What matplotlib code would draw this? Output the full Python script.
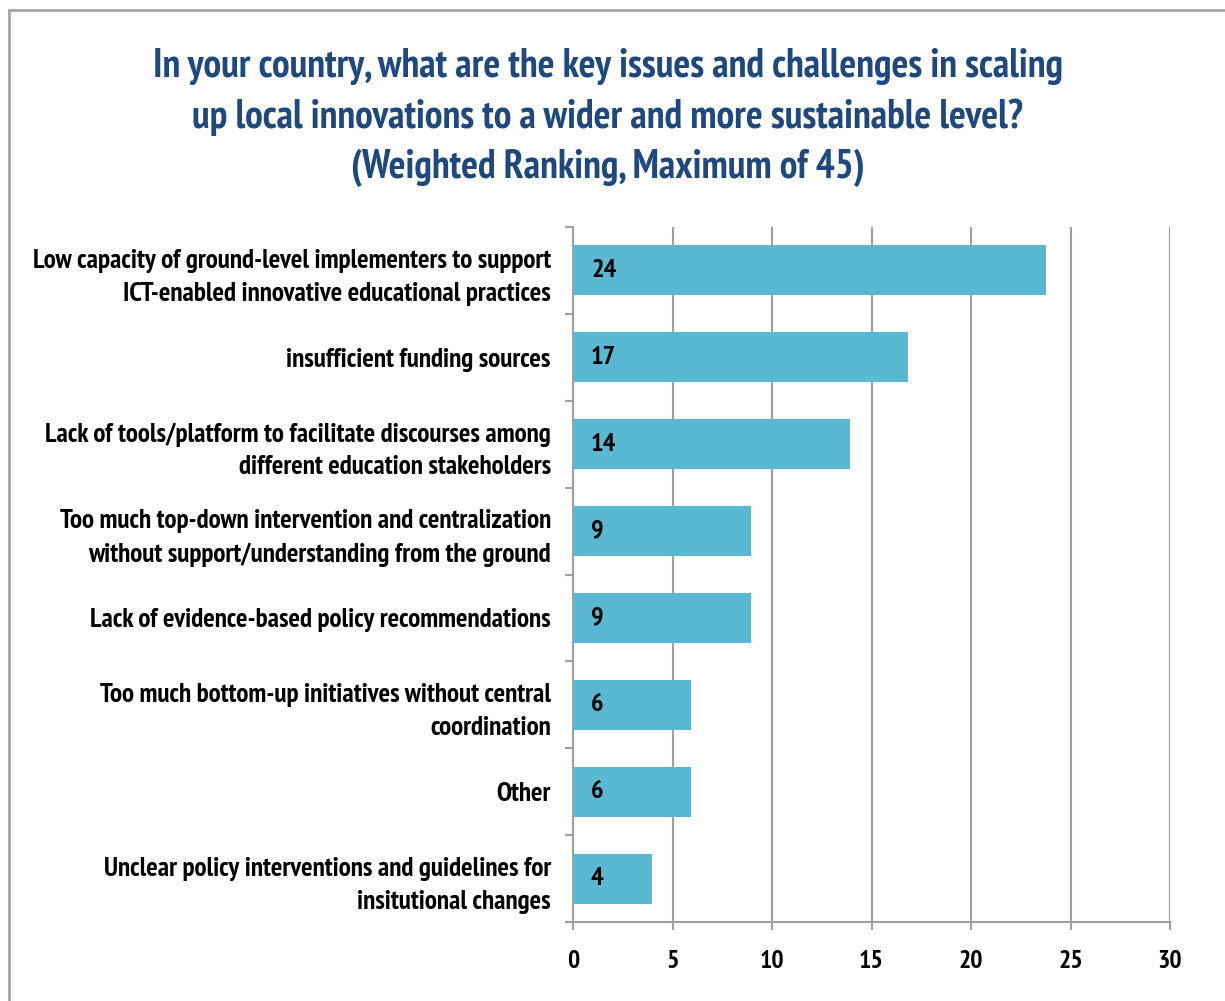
import matplotlib
matplotlib.use("Agg")
import matplotlib.pyplot as plt
from matplotlib.patches import Rectangle
from matplotlib import font_manager

categories = [
    "Low capacity of ground-level implementers to support\nICT-enabled innovative educational practices",
    "insufficient funding sources",
    "Lack of tools/platform to facilitate discourses among\ndifferent education stakeholders",
    "Too much top-down intervention and centralization\nwithout support/understanding from the ground",
    "Lack of evidence-based policy recommendations",
    "Too much bottom-up initiatives without central\ncoordination",
    "Other",
    "Unclear policy interventions and guidelines for\ninsitutional changes",
]
values = [23.75, 16.85, 13.9, 8.95, 8.95, 5.95, 5.95, 3.95]
value_labels = ["24", "17", "14", "9", "9", "6", "6", "4"]
xticks = [0, 5, 10, 15, 20, 25, 30]

title = ("In your country, what are the key issues and challenges in scaling\n"
         "up local innovations to a wider and more sustainable level?\n"
         "(Weighted Ranking, Maximum of 45)")

names = {f.name for f in font_manager.fontManager.ttflist}
fams = [f for f in ["PT Sans Narrow", "Roboto Condensed", "Liberation Sans Narrow"] if f in names]
plt.rcParams['font.family'] = fams + ['DejaVu Sans']

bar_color = "#5BB8D2"
grid_color = "#A0A0A0"

fig = plt.figure(figsize=(12.25, 10.01), dpi=100)
ax = fig.add_axes([0.4678, 0.0789, 0.4873, 0.6943])

ypos = list(range(len(categories)))
ax.barh(ypos, values, height=0.575, color=bar_color, zorder=3)
for y, v, lab in zip(ypos, values, value_labels):
    ax.text(0.9, y, lab, ha="left", va="center", fontsize=19,
            fontweight="bold", color="black", zorder=4)

ax.set_ylim(len(categories) - 0.5, -0.5)
ax.set_xlim(0, 30)
ax.set_xticks(xticks)
ax.set_xticklabels([str(t) for t in xticks], fontsize=18.5, fontweight="bold")
ax.set_yticks([y + 0.5 for y in ypos] + [-0.5])
ax.set_yticks(ypos, minor=True)
ax.set_yticklabels(categories, minor=True, fontsize=19.5, fontweight="bold",
                   linespacing=1.45)
ax.set_yticklabels([])
ax.tick_params(axis="y", which="minor", length=0, pad=16)
ax.tick_params(axis="y", which="major", length=6, color=grid_color, width=1.5)
ax.tick_params(axis="x", length=6, color=grid_color, width=1.5, pad=14)

ax.grid(axis="x", color=grid_color, linewidth=1.5, zorder=0)
for s in ["top", "right"]:
    ax.spines[s].set_visible(False)
for s in ["left", "bottom"]:
    ax.spines[s].set_color(grid_color)
    ax.spines[s].set_linewidth(1.5)

fig.text(0.496, 0.952, title, ha="center", va="top", fontsize=28.5,
         fontweight="bold", color="#1F497D", linespacing=1.45)

fig.patches.append(Rectangle((9 / 1225, -0.01), 1.02, 1 - 10 / 1001 + 0.01,
                             transform=fig.transFigure, fill=False,
                             edgecolor="#A6A6A6", linewidth=2))

fig.savefig("out.png", dpi=100)
